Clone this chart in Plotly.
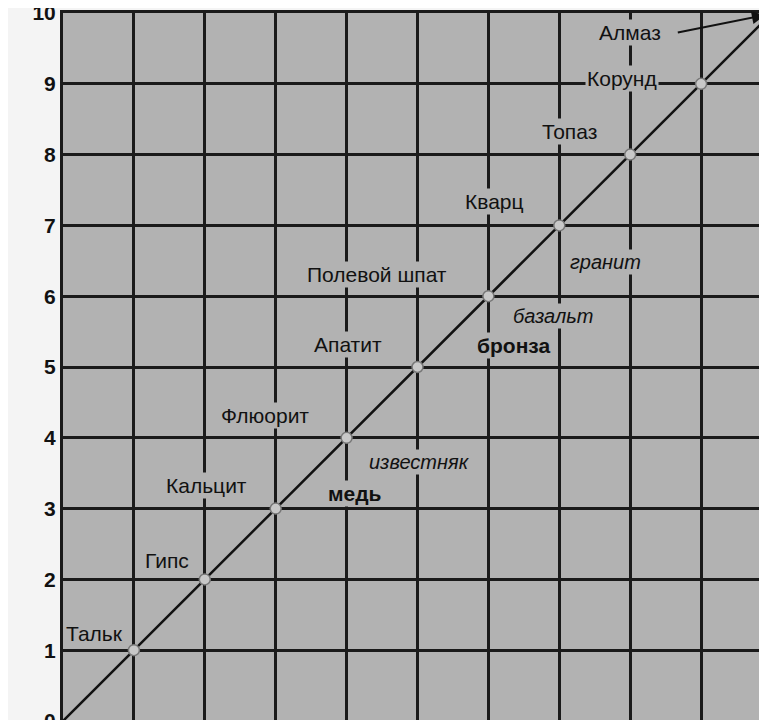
import plotly.graph_objects as go

hardness = [1, 2, 3, 4, 5, 6, 7, 8, 9, 10]
minerals = ["Тальк", "Гипс", "Кальцит", "Флюорит", "Апатит", "Полевой шпат",
            "Кварц", "Топаз", "Корунд", "Алмаз"]
label_x = [0.44, 1.46, 2.03, 2.85, 4.02, 4.43, 6.09, 7.15, 7.88, 8.0]
label_y = [1.23, 2.26, 3.33, 4.31, 5.32, 6.30, 7.34, 8.32, 9.08, 9.72]

materials = ["гранит", "базальт", "бронза", "известняк", "медь"]
mat_x = [7.65, 6.91, 6.35, 5.03, 4.12]
mat_y = [6.48, 5.72, 5.30, 3.66, 3.21]
mat_bold = [False, False, True, False, True]

ticks = [0, 1, 2, 3, 4, 5, 6, 7, 8, 9, 10]

bg = "#b2b2b2"
fig = go.Figure()
fig.add_trace(go.Scatter(x=[0] + hardness, y=[0] + hardness, mode="lines",
                         line=dict(color="#111", width=2.5), hoverinfo="skip"))
fig.add_trace(go.Scatter(x=hardness, y=hardness, mode="markers",
                         marker=dict(size=11, color="#c8c8c8", line=dict(color="#777", width=1.5))))

for i, (name, lx, ly) in enumerate(zip(minerals, label_x, label_y)):
    if name == "Алмаз":
        fig.add_annotation(x=hardness[i] - 0.1, y=hardness[i] - 0.03, ax=lx + 0.65, ay=ly,
                           axref="x", ayref="y", showarrow=True, arrowhead=2,
                           arrowsize=1.3, arrowwidth=2, arrowcolor="#111", text="")
    fig.add_annotation(x=lx, y=ly, text=name, showarrow=False, bgcolor=bg,
                       font=dict(size=21, color="#111", family="Liberation Sans"))

for name, mx, my, b in zip(materials, mat_x, mat_y, mat_bold):
    txt = f"<b>{name}</b>" if b else f"<i>{name}</i>"
    fig.add_annotation(x=mx, y=my, text=txt, showarrow=False, bgcolor=bg,
                       font=dict(size=21 if b else 20, color="#111", family="Liberation Sans"))

axis = dict(range=[0, 10], tickvals=ticks, showgrid=True, gridcolor="#1a1a1a", gridwidth=2.5,
            zeroline=False, showline=True, linecolor="#1a1a1a", linewidth=3, mirror=True)
fig.update_layout(
    width=767, height=720, margin=dict(l=55, r=3, t=5, b=7, autoexpand=False),
    plot_bgcolor=bg, paper_bgcolor="#f4f4f4", showlegend=False,
    xaxis=dict(axis, showticklabels=False),
    yaxis=dict(axis, ticktext=[f"<b>{t}</b>" for t in ticks], ticklabeloverflow="allow",
               tickfont=dict(size=21, color="#111", family="Liberation Sans")),
)
fig.write_html("out.html")
